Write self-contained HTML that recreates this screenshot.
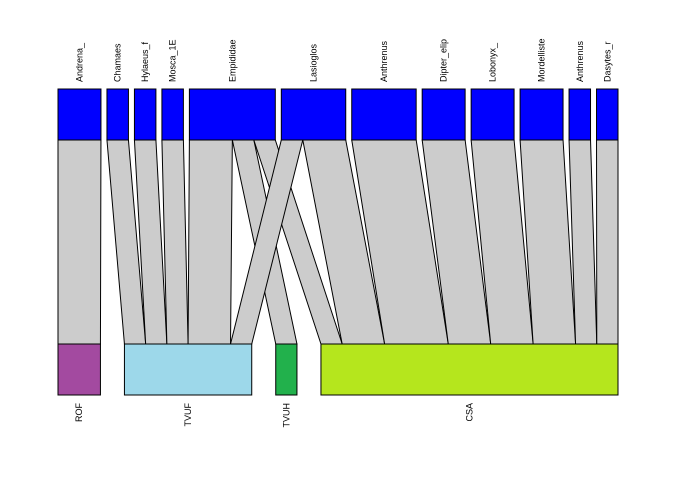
<!DOCTYPE html>
<html><head><meta charset="utf-8"><style>
html,body{margin:0;padding:0;background:#fff;}
svg{display:block;font-family:"Liberation Sans",sans-serif;}
</style></head><body>
<svg id="c" width="684" height="485" viewBox="0 0 684 485"></svg>
<script>
const higherNames=["Andrena_","Chamaes","Hylaeus_f","Mosca_1E","Empididae","Lasioglos","Anthrenus","Dipter_elip","Lobonyx_","Mordelliste","Anthrenus","Dasytes_r"];
const lowerNames=["ROF","TVUF","TVUH","CSA"];
const lowerColors=["#a34aa0","#9dd8ea","#22b14c","#b5e61d"];
// link weights: rows = lower species, columns = higher species
const rowROF =[2,0,0,0,0,0,0,0,0,0,0,0];
const rowTVUF=[0,1,1,1,2,1,0,0,0,0,0,0];
const rowTVUH=[0,0,0,0,1,0,0,0,0,0,0,0];
const rowCSA =[0,0,0,0,1,2,3,2,2,2,1,1];
const web=[rowROF,rowTVUF,rowTVUH,rowCSA];

const svg=document.getElementById('c');
const NS="http://www.w3.org/2000/svg";
const X0=58,X1=618,topGap=6,botGap=24;
const yTop=89,yTopB=140,yBot=344,yBotB=395;
const nH=higherNames.length,nL=lowerNames.length;
const hTot=higherNames.map((_,j)=>web.reduce((s,r)=>s+r[j],0));
const lTot=web.map(r=>r.reduce((a,b)=>a+b,0));
const total=hTot.reduce((a,b)=>a+b,0);
const unit=(X1-X0-topGap*(nH-1))/total;
const unitB=(X1-X0-botGap*(nL-1))/total;
function mk(tag,attrs){const e=document.createElementNS(NS,tag);for(const k in attrs)e.setAttribute(k,attrs[k]);svg.appendChild(e);return e;}
const hX=[];let x=X0;for(let j=0;j<nH;j++){hX.push(x);x+=hTot[j]*unit+topGap;}
const lX=[];x=X0;for(let i=0;i<nL;i++){lX.push(x);x+=lTot[i]*unitB+botGap;}
const hOff=hX.slice(),lOff=lX.slice();
for(let j=0;j<nH;j++){
  for(let i=0;i<nL;i++){
    if(web[i][j]<=0)continue;
    const w=web[i][j]*unit,wb=web[i][j]*unitB;
    const a=hOff[j],b=lOff[i];
    const p=mk('polygon',{points:`${a},${yTopB} ${a+w},${yTopB} ${b+wb},${yBot} ${b},${yBot}`,fill:'#cccccc',stroke:'#000','stroke-width':1});
    
    
    hOff[j]+=w;lOff[i]+=wb;
  }
}
for(let j=0;j<nH;j++){
  const r=mk('rect',{x:hX[j],y:yTop,width:hTot[j]*unit,height:yTopB-yTop,fill:'#0000ff',stroke:'#000','stroke-width':1});
  
  
  const cx=hX[j]+hTot[j]*unit/2+3;
  const t=mk('text',{x:cx,y:82,transform:`rotate(-90 ${cx} 82)`,'font-size':9,fill:'#000'});
  t.textContent=higherNames[j];
  
  
}
for(let i=0;i<nL;i++){
  const r=mk('rect',{x:lX[i],y:yBot,width:lTot[i]*unitB,height:yBotB-yBot,fill:lowerColors[i],stroke:'#000','stroke-width':1});
  
  
  const cx=lX[i]+lTot[i]*unitB/2+3;
  const t=mk('text',{x:cx,y:403,transform:`rotate(-90 ${cx} 403)`,'font-size':9,'text-anchor':'end',fill:'#000'});
  t.textContent=lowerNames[i];
  
  
}
</script>
</body></html>
